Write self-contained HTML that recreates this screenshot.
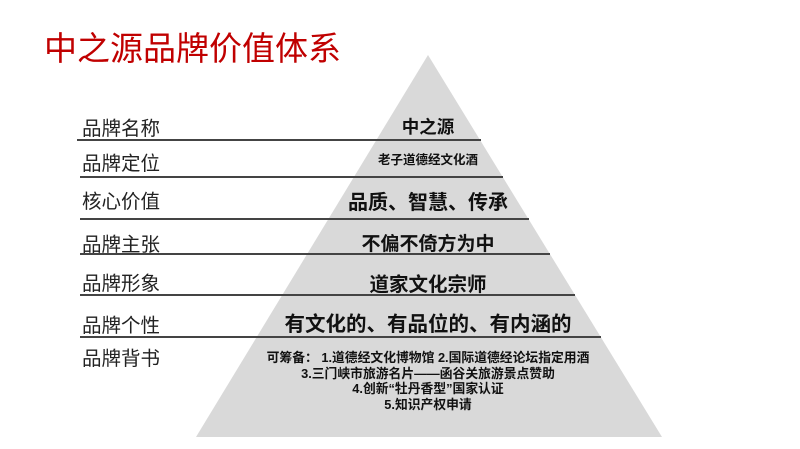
<!DOCTYPE html>
<html><head><meta charset="utf-8"><style>
body{margin:0;width:800px;height:449px;background:#fff;overflow:hidden;position:relative;font-family:"Liberation Sans","Noto Sans CJK SC",sans-serif}
.t{position:absolute;white-space:nowrap}
.l{position:absolute;left:82px;font-size:19.5px;color:#222}
.c{position:absolute;left:178px;width:500px;text-align:center;font-weight:bold;color:#111;white-space:nowrap}
</style></head><body>
<div class="t" style="left:44px;top:22px;font-size:33px;color:#c00000">中之源品牌价值体系</div>
<svg style="position:absolute;left:0;top:0" width="800" height="449">
<polygon points="428,55 662,437 196,437" fill="#d9d9d9"/>
<g stroke="#444" stroke-width="2">
<line x1="77" y1="140" x2="481" y2="140"/>
<line x1="80" y1="177" x2="503" y2="177"/>
<line x1="80" y1="219" x2="529" y2="219"/>
<line x1="80" y1="254" x2="550" y2="254"/>
<line x1="80" y1="295" x2="575" y2="295"/>
<line x1="80" y1="337" x2="601" y2="337"/>
</g></svg>
<div class="l" style="top:112px">品牌名称</div>
<div class="l" style="top:147px">品牌定位</div>
<div class="l" style="top:185px">核心价值</div>
<div class="l" style="top:228px">品牌主张</div>
<div class="l" style="top:267px">品牌形象</div>
<div class="l" style="top:309px">品牌个性</div>
<div class="l" style="top:342px">品牌背书</div>
<div class="c" style="top:114px;font-size:17.5px">中之源</div>
<div class="c" style="top:149px;font-size:12.5px">老子道德经文化酒</div>
<div class="c" style="top:186px;font-size:20px">品质、智慧、传承</div>
<div class="c" style="top:229px;font-size:19px">不偏不倚方为中</div>
<div class="c" style="top:268px;font-size:19.5px">道家文化宗师</div>
<div class="c" style="top:307px;font-size:20.5px">有文化的、有品位的、有内涵的</div>
<div class="c" style="top:350px;font-size:12.8px;line-height:15.5px">可筹备： 1.道德经文化博物馆 2.国际道德经论坛指定用酒<br>3.三门峡市旅游名片——函谷关旅游景点赞助<br>4.创新“牡丹香型”国家认证<br>5.知识产权申请</div>
</body></html>
